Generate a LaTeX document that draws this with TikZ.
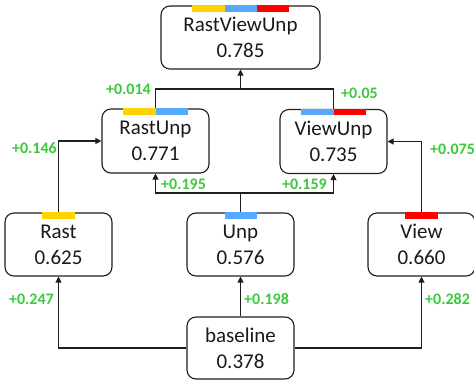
\documentclass[tikz,border=0pt]{standalone}
\usepackage{fontspec}
\setmainfont{Carlito}
\usetikzlibrary{arrows.meta,calc}
\definecolor{gainc}{RGB}{60,200,60}
\definecolor{rastc}{RGB}{255,210,0}
\definecolor{unpc}{RGB}{85,170,255}
\definecolor{viewc}{RGB}{255,0,0}
\definecolor{edgec}{RGB}{30,30,30}
\begin{document}
\begin{tikzpicture}[x=1pt,y=-1pt,
  model/.style={draw=edgec, line width=1.1pt, rounded corners=9pt, minimum width=107pt, minimum height=63pt, align=center, inner sep=0pt, font=\fontsize{21}{26}\selectfont, text=black!90},
  gain/.style={text=gainc, inner sep=0pt, font=\fontsize{16}{19}\selectfont\bfseries},
  conn/.style={draw=edgec, line width=1.1pt},
  arr/.style={conn, -{Triangle[length=6pt,width=6pt]}}
]
\useasboundingbox (0,0) rectangle (474,381);
% nodes
\node[model, minimum width=159pt] (top) at (240.5,37.5) {RastViewUnp\\0.785};
\node[model, minimum height=64pt] (ru) at (155.5,141) {RastUnp\\0.771};
\node[model, minimum height=64pt] (vu) at (333.5,141.5) {ViewUnp\\0.735};
\node[model] (rast) at (58.5,244.5) {Rast\\0.625};
\node[model] (unp) at (240.5,244.5) {Unp\\0.576};
\node[model] (view) at (421.5,244.5) {View\\0.660};
\node[model, minimum height=62pt] (base) at (240.5,348) {baseline\\0.378};
% colour bars
\newcommand{\barseg}[4]{\fill[#4] ($(#1.north)+(#2,0)$) rectangle ($(#1.north)+(#3,6.5)$);}
\barseg{top}{-48.5}{-16}{rastc}
\barseg{top}{-16}{16}{unpc}
\barseg{top}{16}{48.5}{viewc}
\barseg{ru}{-32.5}{0}{rastc}
\barseg{ru}{0}{32.5}{unpc}
\barseg{vu}{-32.5}{0}{unpc}
\barseg{vu}{0}{32.5}{viewc}
\barseg{rast}{-16.5}{16.5}{rastc}
\barseg{unp}{-16}{16}{unpc}
\barseg{view}{-16.5}{16.5}{viewc}
% junction coordinates
\coordinate (jlow) at (240.5,193);
\coordinate (jtop) at (240.5,89);
% connectors
\draw[arr] (base.west) -| (rast.south);
\draw[arr] (base.east) -| (view.south);
\draw[arr] (base.north) -- (unp.south);
\draw[conn] (unp.north) -- (jlow);
\draw[arr] (jlow) -| (ru.south);
\draw[arr] (jlow) -| (vu.south);
\draw[arr] (rast.north) |- (ru.west);
\draw[arr] (view.north) |- (vu.east);
\draw[conn] (ru.north) |- (jtop) -| (vu.north);
\draw[arr] (jtop) -- (top.south);
% gains
\node[gain, anchor=east] (g1) at (151,89) {+0.014};
\node[gain, anchor=west] (g2) at (341,93) {+0.05};
\node[gain, anchor=east] (g3) at (57,148) {+0.146};
\node[gain, anchor=west] (g4) at (430,149) {+0.075};
\node[gain, anchor=west] (g5) at (161,184) {+0.195};
\node[gain, anchor=east] (g6) at (327,184) {+0.159};
\node[gain, anchor=east] (g7) at (54,299) {+0.247};
\node[gain, anchor=west] (g8) at (244,299) {+0.198};
\node[gain, anchor=west] (g9) at (425,299) {+0.282};
\end{tikzpicture}
\end{document}
